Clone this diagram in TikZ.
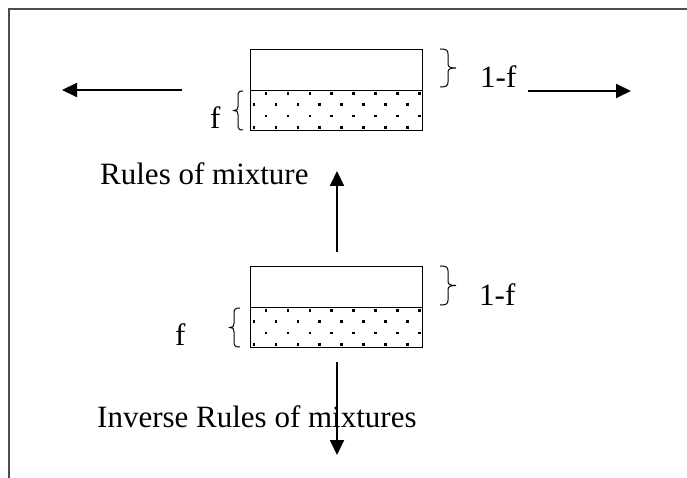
\documentclass[tikz,border=0pt]{standalone}
\usepackage{fontspec}
\setmainfont{Liberation Serif}
\usetikzlibrary{arrows.meta}
% right-facing brace: #1 = x of ends, #2 = top y, #3 = bottom y, #4 = stem offset, #5 = tip offset
\newcommand{\mybrc}[5]{%
  \draw[brcline] (#1,#2) .. controls (#1+0.75*#4,#2) and (#1+#4,#2+1) .. (#1+#4,#2+5)
    -- (#1+#4,{(#2+#3)/2-4}) .. controls (#1+#4,{(#2+#3)/2-1}) and (#1+#4+0.3*#5-0.3*#4,{(#2+#3)/2}) .. (#1+#5,{(#2+#3)/2})
    .. controls (#1+#4+0.3*#5-0.3*#4,{(#2+#3)/2}) and (#1+#4,{(#2+#3)/2+1}) .. (#1+#4,{(#2+#3)/2+4})
    -- (#1+#4,#3-5) .. controls (#1+#4,#3-1) and (#1+0.75*#4,#3) .. (#1,#3);}
\begin{document}
\begin{tikzpicture}[x=1pt,y=-1pt,
  lbl/.style={anchor=base west, inner sep=0pt, font=\fontsize{31}{36}\selectfont},
  arr/.style={line width=2pt, -{Triangle[length=15pt,width=14pt]}},
  half/.style={draw, line width=1.3pt, minimum width=172pt, inner sep=0pt, anchor=north west},
  brcline/.style={line width=1pt}]
\useasboundingbox (0,0) rectangle (687,478);
\draw[line width=2pt, black!70] (9,478) -- (9,9) -- (687,9);
% top composite
\node[half, minimum height=41pt] (tA) at (250,49) {};
\node[half, minimum height=40pt] (tB) at (250,90) {};
% bottom composite
\node[half, minimum height=41pt] (bA) at (250,266) {};
\node[half, minimum height=40pt] (bB) at (250,307) {};
% dots
\foreach \yb in {90,307}{
  \foreach \yo/\xs in {3.5/266,14.5/254,26/266,37.5/254}{
    \foreach \k in {0,...,7}{
      \fill (\xs+21.9*\k-1.25, \yb+\yo-1.25) rectangle ++(2.5,2.5);
    }
  }
}
% braces
\mybrc{440}{49}{87}{8}{16}
\mybrc{243}{91}{130}{-5}{-9}
\mybrc{440}{266}{305}{8}{16}
\mybrc{240}{308}{347}{-6}{-10}
% labels
\node[lbl] (t1f) at (480,88) {1-f};
\node[lbl] (tf) at (210,129) {f};
\node[lbl] (b1f) at (479,305) {1-f};
\node[lbl] (bf) at (175,345) {f};
\node[lbl] (rom) at (100,185) {Rules of mixture};
\node[lbl] (irom) at (97,427) {Inverse Rules of mixtures};
% arrows
\coordinate (la1) at (182,90);
\coordinate (la2) at (62,90);
\coordinate (ra1) at (528,91);
\coordinate (ra2) at (631,91);
\coordinate (ua1) at (337,252);
\coordinate (ua2) at (337,171);
\coordinate (da1) at (337,362);
\coordinate (da2) at (337,455);
\draw[arr] (la1) -- (la2);
\draw[arr] (ra1) -- (ra2);
\draw[arr] (ua1) -- (ua2);
\draw[arr] (da1) -- (da2);
\end{tikzpicture}
\end{document}
